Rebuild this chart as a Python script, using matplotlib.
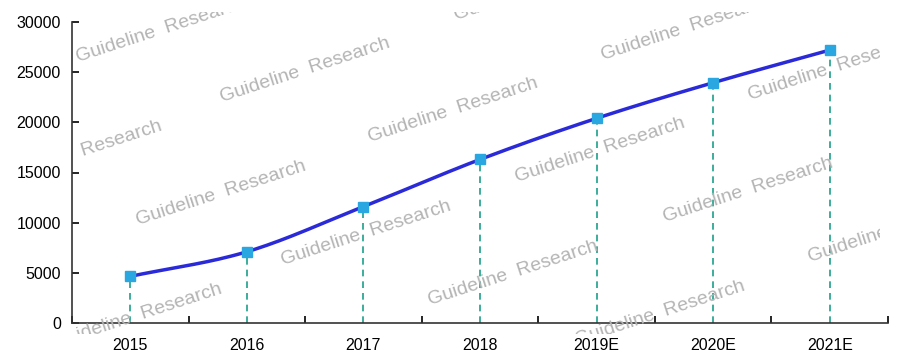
import numpy as np
import matplotlib.pyplot as plt
from matplotlib.patches import Rectangle

years = ['2015', '2016', '2017', '2018', '2019E', '2020E', '2021E']
values = [4650, 7100, 11600, 16300, 20400, 23950, 27200]

# watermark anchors, pixel positions (x, y from top)
marks = [(78, 62), (222, 102), (370, 142), (517, 182), (665, 222), (810, 262),
         (456, 20), (603, 60), (750, 100),
         (-6, 185), (138, 225), (283, 265), (430, 305), (577, 345),
         (-93, 308), (54, 348)]

W, H = 900, 364


def smooth(x, y, n=30):
    # catmull-rom through the points
    x = np.asarray(x, float)
    y = np.asarray(y, float)
    px = np.concatenate([[2 * x[0] - x[1]], x, [2 * x[-1] - x[-2]]])
    py = np.concatenate([[2 * y[0] - y[1]], y, [2 * y[-1] - y[-2]]])
    xs, ys = [], []
    t = np.linspace(0, 1, n)
    for i in range(1, len(px) - 2):
        for p, out in ((px, xs), (py, ys)):
            p0, p1, p2, p3 = p[i - 1], p[i], p[i + 1], p[i + 2]
            out.extend(0.5 * (2 * p1 + (-p0 + p2) * t
                              + (2 * p0 - 5 * p1 + 4 * p2 - p3) * t ** 2
                              + (-p0 + 3 * p1 - 3 * p2 + p3) * t ** 3))
    return xs, ys


plt.rcParams['font.family'] = ['Liberation Sans', 'DejaVu Sans']

fig = plt.figure(figsize=(9, 3.64), dpi=100)
ax = fig.add_axes([72 / W, 41 / H, 816 / W, 301 / H])

clip = Rectangle((76 / W, 30 / H), 804 / W, 322 / H, transform=fig.transFigure,
                 fill=False, visible=False)
fig.add_artist(clip)
for mx, my in marks:
    t = fig.text(mx / W, 1 - my / H, 'Guideline  Research', fontsize=14,
                 color='#b4b4b4', rotation=18, rotation_mode='anchor',
                 ha='left', va='baseline', zorder=0)
    t.set_clip_path(clip)

x = np.arange(len(years))
ax.vlines(x, 0, values, colors='#1aa08a', linestyles=(0, (4, 3)), linewidth=1.2, zorder=2)
sx, sy = smooth(x, values)
ax.plot(sx, sy, color='#2a2ad8', linewidth=2.5, zorder=3)
ax.plot(x, values, linestyle='none', marker='s', markersize=7,
        color='#2aa6e0', zorder=4)

ax.set_xlim(-0.5, len(years) - 0.5)
ax.set_ylim(0, 30000)
ax.set_yticks(range(0, 30001, 5000))
ax.set_xticks(x)
ax.set_xticklabels(years)
ax.set_xticks(np.arange(-0.5, len(years)), minor=True)
ax.tick_params(axis='x', which='major', length=0, labelsize=11.5, pad=11)
ax.tick_params(axis='x', which='minor', direction='in', length=5, width=1.2)
ax.tick_params(axis='y', direction='in', length=5, width=1.2, labelsize=11.5, pad=8)
for s in ['top', 'right']:
    ax.spines[s].set_visible(False)
for s in ['left', 'bottom']:
    ax.spines[s].set_linewidth(1.2)
    ax.spines[s].set_color('#333333')
ax.patch.set_alpha(0)

fig.savefig('out.png', dpi=100)
